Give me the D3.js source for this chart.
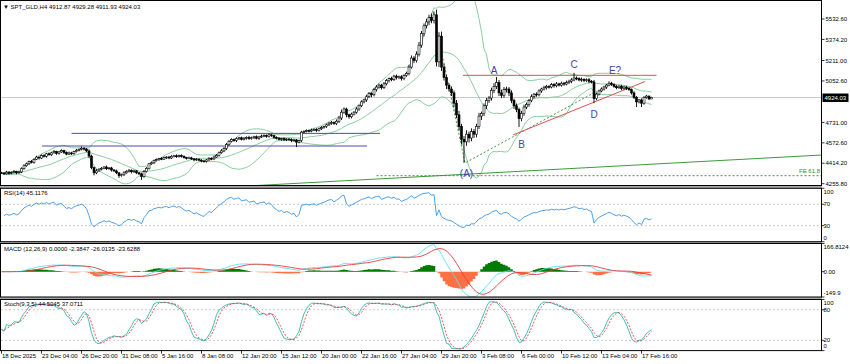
<!DOCTYPE html>
<html><head><meta charset="utf-8">
<script src="https://cdn.jsdelivr.net/npm/d3@7"></script>
<style>
body{margin:0;background:#fff;}
svg{display:block;font-family:"Liberation Sans",Arial,sans-serif;}
</style></head><body>
<svg id="chart" width="850" height="364"></svg>
<script>
// H4 bars (first bar 18 Dec 2025)
const firstOpen = 4340;
const closes = [
  4338,4332,4345,4336,4342,4350,4340,4347,4372,4395,
  4410,4428,4420,4445,4462,4455,4474,4468,4488,4480,
  4495,4505,4490,4502,4512,4498,4485,4494,4488,4505,
  4515,4522,4530,4525,4510,4470,4380,4340,4355,4368,
  4375,4385,4372,4378,4362,4355,4340,4318,4325,4340,
  4352,4360,4348,4355,4340,4332,4312,4350,4375,4410,
  4418,4435,4442,4450,4446,4458,4462,4455,4468,4472,
  4465,4474,4468,4458,4452,4456,4448,4440,4446,4438,
  4432,4428,4440,4452,4448,4462,4475,4496,4510,4528,
  4560,4585,4598,4590,4604,4612,4600,4608,4615,4605,
  4612,4620,4608,4618,4625,4630,4622,4635,4628,4615,
  4608,4600,4605,4596,4602,4598,4590,4595,4578,4590,
  4655,4662,4668,4664,4672,4676,4670,4682,4690,4698,
  4712,4725,4730,4722,4740,4765,4810,4835,4790,4775,
  4795,4810,4835,4860,4890,4905,4930,4955,4945,4985,
  5005,5020,5000,5030,5055,5070,5062,5090,5078,5085,
  5070,5095,5110,5160,5230,5210,5260,5330,5420,5480,
  5510,5545,5520,5565,5200,5400,5160,5080,5020,4990,
  4960,4880,4790,4700,4600,4580,4640,4610,4660,4640,
  4700,4780,4800,4860,4900,4920,4980,5010,5040,4960,
  4940,4985,4990,4960,4900,4860,4830,4760,4800,4850,
  4870,4900,4930,4950,4945,4975,4990,5000,5010,5005,
  5025,5015,5030,5020,5035,5028,5040,5050,5060,5075,
  5070,5060,5065,5055,5062,5050,5045,4915,4950,4975,
  4990,5005,5020,5035,5025,5010,5000,5012,4995,5005,
  4995,4985,4960,4925,4890,4905,4880,4925,4935,4912.87,4924.03
];
const wickUp = [
  8,6,10,7,9,12,6,8,10,12, 9,7,12,8,10,6,9,11,7,10,
  8,12,6,9,10,7,8,11,9,6, 10,8,14,9,7,12,10,8,15,9,
  10,8,12,7,9,8,10,6,9,12, 8,10,7,9,6,8,10,12,9,7,
  10,8,9,6,12,8,7,10,9,8, 11,7,9,8,6,10,8,7,9,6,
  8,10,7,9,8,12,10,9,14,11, 12,9,10,8,11,7,9,10,8,12,
  9,7,10,8,12,9,8,10,7,9, 8,10,7,9,6,8,10,9,7,8,
  10,8,9,7,11,8,10,9,12,8, 10,9,12,8,14,15,20,12,10,9,
  12,10,14,9,12,10,15,12,10,14, 15,12,10,14,12,9,15,10,12,9,
  12,10,14,18,20,15,22,25,20,18, 25,20,30,25,40,30,35,25,20,15,
  20,18,25,30,20,25,30,20,25,20, 20,25,15,18,20,15,20,25,43,20,
  25,20,18,15,20,15,18,15,20,18, 15,12,18,10,14,12,10,15,12,10,
  12,10,14,8,12,10,15,12,14,40, 12,10,14,8,10,12,9,15,12,10,
  12,10,9,14,10,9,12,8,10,9, 10,8,9,12,10,8,12,10,9,5,5.25
];
const wickDn = [
  7,9,6,10,8,7,12,6,9,8, 8,10,7,9,6,12,8,9,11,7,
  9,6,10,8,7,12,9,6,10,8, 7,9,8,12,10,14,12,20,10,8,
  9,7,10,8,12,9,10,18,8,10, 7,9,12,8,10,9,27,10,8,9,
  8,10,7,9,8,6,10,9,7,8, 9,7,10,8,9,6,8,10,7,9,
  10,8,9,7,10,8,6,9,8,10, 12,10,8,9,12,10,9,8,11,9,
  8,10,9,12,8,9,10,8,9,11, 9,8,12,9,10,8,12,9,38,10,
  12,9,8,10,9,8,12,9,10,8, 10,9,12,10,12,14,15,12,20,15,
  12,10,12,14,10,12,15,10,18,12, 15,12,14,10,12,15,12,10,14,12,
  15,12,10,15,12,20,15,18,20,22, 20,25,20,22,35,40,30,25,30,20,
  25,30,25,30,40,163,30,35,25,30, 25,20,30,20,25,18,20,22,20,25,
  20,18,22,25,20,25,20,65,20,18, 15,18,12,14,15,12,15,10,14,12,
  10,14,12,10,12,14,10,12,15,10, 12,10,14,12,10,15,12,35,12,10,
  10,12,14,9,12,10,12,10,14,12, 12,10,14,12,40,12,30,12,10,9,0.94
];
const timeLabels = ["18 Dec 2025","23 Dec 04:00","26 Dec 20:00","31 Dec 08:00","5 Jan 16:00","8 Jan 08:00",
  "12 Jan 20:00","15 Jan 12:00","20 Jan 00:00","22 Jan 16:00","27 Jan 04:00","29 Jan 20:00",
  "3 Feb 08:00","6 Feb 00:00","10 Feb 12:00","13 Feb 04:00","17 Feb 16:00"];
const barsPerLabel = 16;
const priceTicks = [5532.60,5374.20,5211.00,5052.60,4731.00,4572.60,4414.20,4255.80];
const rsiTicks = [100,70,30,0];
const rsiLevels = [70,30];
const macdTicks = [166.8124,0,-149.9];
const stochTicks = [100,80,20,0];
const stochLevels = [80,20];
const lastPrice = 4924.03;

// drawn objects (bar index, price)
const blueLines = [[28,151.4,4646],[16.2,146.2,4548]];
const redLevel = [184.6,262,5096];
const redTrend = [[204.6,4634],[257.4,5048]];
const greenTrend = [[102.2,4242],[328,4478]];
const feLevel = [150,328,4318];
const feDots = [[172.6,5590],[185.4,4417],[238.2,4974]];
const waveLabels = [["A",197,5110],["B",208,4532],["C",229,5156],["D",237,4768],["E?",245.4,5110],["(A)",186,4305]];

const W = 850, H = 364, plotR = 821.5;
const svg = d3.select("#chart");
const x = d3.scaleLinear().domain([0, 328]).range([1.5, plotR]);
const panels = {
  main: {top: 0.5, bot: 185.5},
  rsi: {top: 188.3, bot: 241.7},
  macd: {top: 243.5, bot: 297},
  stoch: {top: 299.5, bot: 350.6}
};
const yMain = d3.scaleLinear().domain([4255.8, 5532.6]).range([183.7, 19]);
const yRsi = d3.scaleLinear().domain([0, 100]).range([panels.rsi.bot, panels.rsi.top]);
const yMacd = d3.scaleLinear().domain([-149.9, 166.8124]).range([panels.macd.bot, panels.macd.top]);
const yStoch = d3.scaleLinear().domain([0, 100]).range([panels.stoch.bot, panels.stoch.top]);

const n = closes.length;
const bars = closes.map((c, i) => {
  const o = i === 0 ? firstOpen : closes[i - 1];
  return {i, o, c, h: Math.max(o, c) + wickUp[i], l: Math.min(o, c) - wickDn[i]};
});

// indicators from the bars
const bb = bars.map((b, i) => {
  const w = closes.slice(Math.max(0, i - 19), i + 1);
  const m = d3.mean(w);
  const sd = Math.sqrt(d3.mean(w, v => (v - m) * (v - m)));
  return {i, m, up: m + 2 * sd, dn: m - 2 * sd};
});
const rsi = [];
let ag = 8, al = 8; // neutral start, no history before the first bar
for (let i = 1; i < n; i++) {
  const d = closes[i] - closes[i - 1];
  ag = (ag * 13 + Math.max(d, 0)) / 14;
  al = (al * 13 + Math.max(-d, 0)) / 14;
  rsi.push({i, v: 100 - 100 / (1 + ag / al)});
}
const ema = p => { const k = 2 / (p + 1); let e = closes[0]; return closes.map(c => (e = e + k * (c - e))); };
const e12 = ema(12), e26 = ema(26);
const macd = closes.map((c, i) => e12[i] - e26[i]);
const sig = macd.map((v, i) => d3.mean(macd.slice(Math.max(0, i - 8), i + 1)));
const macdData = macd.map((v, i) => ({i, m: v, s: sig[i], h: v - sig[i]}));
const kRaw = bars.map((b, i) => {
  const w = bars.slice(Math.max(0, i - 8), i + 1);
  return {ll: d3.min(w, d => d.l), hh: d3.max(w, d => d.h), c: b.c};
});
const stK = kRaw.map((r, i) => {
  const w = kRaw.slice(Math.max(0, i - 4), i + 1);
  const num = d3.sum(w, d => d.c - d.ll), den = d3.sum(w, d => d.hh - d.ll);
  return den === 0 ? 50 : 100 * num / den;
});
const stD = stK.map((v, i) => d3.mean(stK.slice(Math.max(0, i - 2), i + 1)));

// frame
svg.append("rect").attr("width", W).attr("height", H).attr("fill", "#fff");
const sepColor = "#a9a9a9";
svg.append("rect").attr("x", 0).attr("y", panels.main.bot).attr("width", plotR + 0.5).attr("height", panels.rsi.top - panels.main.bot).attr("fill", sepColor);
svg.append("rect").attr("x", 0).attr("y", panels.rsi.bot).attr("width", plotR + 0.5).attr("height", panels.macd.top - panels.rsi.bot).attr("fill", sepColor);
svg.append("rect").attr("x", 0).attr("y", panels.macd.bot).attr("width", plotR + 0.5).attr("height", panels.stoch.top - panels.macd.bot).attr("fill", sepColor);

const defs = svg.append("defs");
Object.entries(panels).forEach(([k, p]) => {
  defs.append("clipPath").attr("id", "clip-" + k).append("rect")
    .attr("x", 1).attr("y", p.top).attr("width", plotR - 1).attr("height", p.bot - p.top);
});

// main panel
const gm = svg.append("g").attr("clip-path", "url(#clip-main)");
gm.append("line").attr("x1", 1).attr("x2", plotR).attr("y1", yMain(lastPrice)).attr("y2", yMain(lastPrice))
  .attr("stroke", "#c8c8c8").attr("stroke-width", 1);

const bbCol = "#7cc994";
["up", "m", "dn"].forEach(key => {
  gm.append("path").datum(bb).attr("fill", "none").attr("stroke", bbCol).attr("stroke-width", 0.9)
    .attr("d", d3.line().x(d => x(d.i)).y(d => yMain(d[key])));
});

gm.append("line").attr("x1", x(greenTrend[0][0])).attr("y1", yMain(greenTrend[0][1]))
  .attr("x2", x(greenTrend[1][0])).attr("y2", yMain(greenTrend[1][1]))
  .attr("stroke", "#3d9a3d").attr("stroke-width", 1);
gm.append("line").attr("x1", x(feLevel[0])).attr("x2", x(feLevel[1])).attr("y1", yMain(feLevel[2])).attr("y2", yMain(feLevel[2]))
  .attr("stroke", "#2e8b2e").attr("stroke-width", 0.9).attr("stroke-dasharray", "2,2");
gm.append("path").datum(feDots).attr("fill", "none").attr("stroke", "#2e8b2e").attr("stroke-width", 0.9)
  .attr("stroke-dasharray", "2,2").attr("d", d3.line().x(d => x(d[0])).y(d => yMain(d[1])));
gm.append("text").attr("x", 820).attr("y", yMain(feLevel[2]) - 2.5).attr("text-anchor", "end")
  .attr("font-size", 6).attr("fill", "#2e8b2e").text("FE 61.8");

blueLines.forEach(b => {
  gm.append("line").attr("x1", x(b[0])).attr("x2", x(b[1])).attr("y1", yMain(b[2])).attr("y2", yMain(b[2]))
    .attr("stroke", "#4a4ab0").attr("stroke-width", 1);
});
gm.append("line").attr("x1", x(redLevel[0])).attr("x2", x(redLevel[1])).attr("y1", yMain(redLevel[2])).attr("y2", yMain(redLevel[2]))
  .attr("stroke", "#e05050").attr("stroke-width", 1);
gm.append("line").attr("x1", x(redTrend[0][0])).attr("y1", yMain(redTrend[0][1]))
  .attr("x2", x(redTrend[1][0])).attr("y2", yMain(redTrend[1][1]))
  .attr("stroke", "#e05050").attr("stroke-width", 1);

const cg = gm.append("g");
cg.selectAll("line.w").data(bars).join("line").attr("class", "w")
  .attr("x1", d => x(d.i)).attr("x2", d => x(d.i))
  .attr("y1", d => yMain(d.h)).attr("y2", d => yMain(d.l))
  .attr("stroke", "#000").attr("stroke-width", 0.9);
cg.selectAll("rect").data(bars).join("rect")
  .attr("x", d => x(d.i) - 1).attr("width", 2)
  .attr("y", d => yMain(Math.max(d.o, d.c)))
  .attr("height", d => Math.max(0.8, Math.abs(yMain(d.o) - yMain(d.c))))
  .attr("fill", d => d.c >= d.o ? "#fff" : "#000")
  .attr("stroke", "#000").attr("stroke-width", 0.6);

gm.selectAll("text.wave").data(waveLabels).join("text").attr("class", "wave")
  .attr("x", d => x(d[1])).attr("y", d => yMain(d[2])).attr("text-anchor", "middle")
  .attr("font-size", 10).attr("fill", "#45459e").text(d => d[0]);

// RSI panel
const gr = svg.append("g").attr("clip-path", "url(#clip-rsi)");
rsiLevels.forEach(l => gr.append("line").attr("x1", 1).attr("x2", plotR).attr("y1", yRsi(l)).attr("y2", yRsi(l))
  .attr("stroke", "#c0c0c0").attr("stroke-dasharray", "2,2").attr("stroke-width", 0.8));
gr.append("path").datum(rsi).attr("fill", "none").attr("stroke", "#3a95e8").attr("stroke-width", 0.9)
  .attr("d", d3.line().x(d => x(d.i)).y(d => yRsi(d.v)));

// MACD panel
const gc = svg.append("g").attr("clip-path", "url(#clip-macd)");
gc.append("path").datum(macdData).attr("fill", "#007a00").attr("stroke", "none")
  .attr("d", d3.area().x(d => x(d.i)).y0(yMacd(0)).y1(d => yMacd(Math.max(0, d.h))).curve(d3.curveStep));
gc.append("path").datum(macdData).attr("fill", "#ff7042").attr("stroke", "none")
  .attr("d", d3.area().x(d => x(d.i)).y0(yMacd(0)).y1(d => yMacd(Math.min(0, d.h))).curve(d3.curveStep));
gc.append("path").datum(macdData).attr("fill", "none").attr("stroke", "#5fe0f0").attr("stroke-width", 0.9)
  .attr("d", d3.line().x(d => x(d.i)).y(d => yMacd(d.m)));
gc.append("path").datum(macdData).attr("fill", "none").attr("stroke", "#e83c3c").attr("stroke-width", 0.9)
  .attr("d", d3.line().x(d => x(d.i)).y(d => yMacd(d.s)));

// Stochastic panel
const gs = svg.append("g").attr("clip-path", "url(#clip-stoch)");
stochLevels.forEach(l => gs.append("line").attr("x1", 1).attr("x2", plotR).attr("y1", yStoch(l)).attr("y2", yStoch(l))
  .attr("stroke", "#c0c0c0").attr("stroke-dasharray", "2,2").attr("stroke-width", 0.8));
gs.append("path").datum(stK).attr("fill", "none").attr("stroke", "#2cb8b0").attr("stroke-width", 0.9)
  .attr("d", d3.line().x((d, i) => x(i)).y(d => yStoch(d)));
gs.append("path").datum(stD).attr("fill", "none").attr("stroke", "#e03030").attr("stroke-width", 0.8)
  .attr("stroke-dasharray", "2,1.5").attr("d", d3.line().x((d, i) => x(i)).y(d => yStoch(d)));

// panel borders
Object.values(panels).forEach(p => {
  svg.append("rect").attr("x", 0.5).attr("y", p.top).attr("width", plotR - 0.5).attr("height", p.bot - p.top)
    .attr("fill", "none").attr("stroke", "#000").attr("stroke-width", 1);
});

// right axes
const fs = 6;
const axisG = svg.append("g").attr("font-size", fs).attr("fill", "#000");
const addTicks = (vals, y, fmt, clampP, dx) => {
  vals.forEach(v => {
    let ty = y(v);
    axisG.append("line").attr("x1", plotR).attr("x2", plotR + 3).attr("y1", ty).attr("y2", ty).attr("stroke", "#000").attr("stroke-width", 0.8);
    if (clampP) ty = Math.max(clampP.top + 3.2, Math.min(clampP.bot - 4.3, ty));
    axisG.append("text").attr("x", plotR + dx).attr("y", ty).attr("dy", "0.35em").text(fmt(v));
  });
};
addTicks(priceTicks, yMain, v => v.toFixed(2), null, 4);
addTicks(rsiTicks, yRsi, v => String(v), panels.rsi, 2);
addTicks(macdTicks, yMacd, v => v === 0 ? "0.00" : String(v), panels.macd, 2);
addTicks(stochTicks, yStoch, v => String(v), panels.stoch, 2);

// current price tag
const ly = yMain(lastPrice);
axisG.append("rect").attr("x", plotR + 1).attr("y", ly - 4).attr("width", 26).attr("height", 8.5).attr("fill", "#000");
axisG.append("text").attr("x", plotR + 3).attr("y", ly).attr("dy", "0.35em").attr("fill", "#fff").text(lastPrice.toFixed(2));

// time axis
timeLabels.forEach((t, k) => {
  const tx = x(k * barsPerLabel);
  axisG.append("line").attr("x1", tx).attr("x2", tx).attr("y1", panels.stoch.bot).attr("y2", panels.stoch.bot + 3)
    .attr("stroke", "#000").attr("stroke-width", 0.8);
  axisG.append("text").attr("x", tx + 0.5).attr("y", 358).text(t);
});

// titles
const tg = svg.append("g").attr("font-size", fs).attr("fill", "#000");
tg.append("text").attr("x", 3).attr("y", 8.5).text("\u25BC SPT_GLD,H4  4912.87 4929.28 4911.93 4924.03");
tg.append("text").attr("x", 4).attr("y", panels.rsi.top + 7).text("RSI(14) 45.1176");
tg.append("text").attr("x", 4).attr("y", panels.macd.top + 7).text("MACD  (12,26,9) 0.0000 -2.3847 -26.0135 -23.6288");
tg.append("text").attr("x", 4).attr("y", panels.stoch.top + 6.5).text("Stoch(9,3,5) 44.5045 37.0711");
</script>
</body></html>
